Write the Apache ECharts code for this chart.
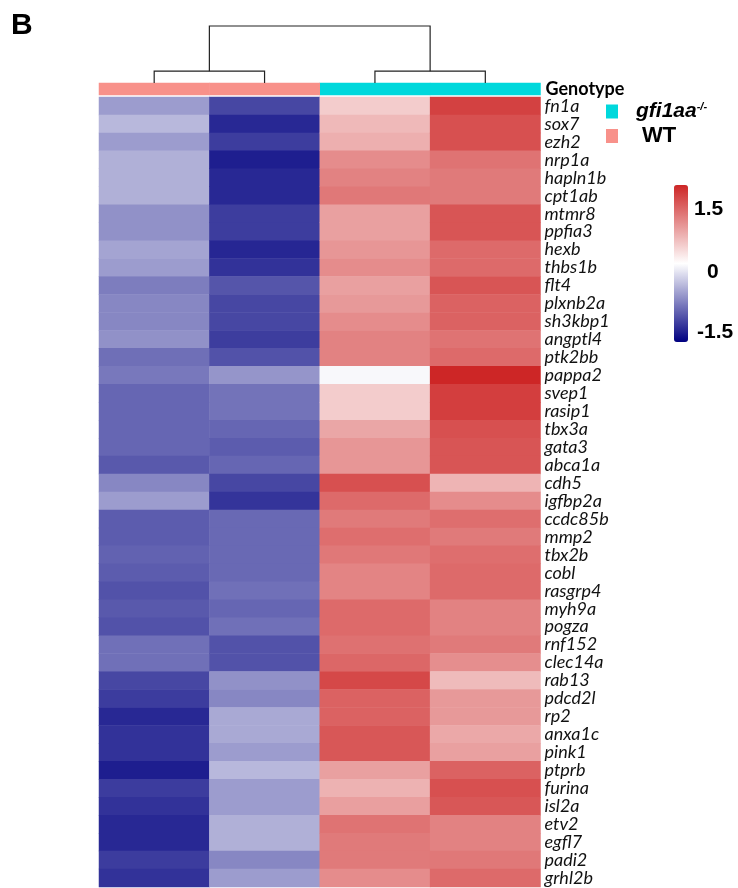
<!DOCTYPE html>
<html><head><meta charset="utf-8">
<script src="https://cdn.jsdelivr.net/npm/echarts/dist/echarts.min.js"></script>
<style>html,body{margin:0;padding:0;background:#fff}#c{width:738px;height:888px}</style>
</head><body><div id="c"></div>
<script>
const genes = ['fn1a','sox7','ezh2','nrp1a','hapln1b','cpt1ab','mtmr8','ppfia3','hexb','thbs1b',
  'flt4','plxnb2a','sh3kbp1','angptl4','ptk2bb','pappa2','svep1','rasip1','tbx3a','gata3',
  'abca1a','cdh5','igfbp2a','ccdc85b','mmp2','tbx2b','cobl','rasgrp4','myh9a','pogza',
  'rnf152','clec14a','rab13','pdcd2l','rp2','anxa1c','pink1','ptprb','furina','isl2a',
  'etv2','egfl7','padi2','grhl2b'];
const samples = ['WT_1','WT_2','gfi1aa_1','gfi1aa_2'];
const sampleGenotype = ['WT','WT','gfi1aa','gfi1aa'];
const wt1 = [-0.70,-0.50,-0.70,-0.56,-0.56,-0.56,-0.78,-0.78,-0.64,-0.70,
  -0.92,-0.85,-0.85,-0.78,-1.02,-0.95,-1.08,-1.08,-1.08,-1.08,
  -1.17,-0.85,-0.70,-1.15,-1.15,-1.11,-1.15,-1.22,-1.17,-1.22,
  -1.01,-1.01,-1.30,-1.38,-1.52,-1.45,-1.45,-1.59,-1.38,-1.45,
  -1.52,-1.52,-1.38,-1.45];
const wt2 = [-1.30,-1.52,-1.37,-1.59,-1.52,-1.52,-1.37,-1.37,-1.53,-1.45,
  -1.20,-1.30,-1.30,-1.37,-1.22,-0.75,-0.99,-0.99,-1.08,-1.15,
  -1.08,-1.30,-1.43,-1.06,-1.06,-1.06,-1.06,-1.01,-1.08,-1.01,
  -1.22,-1.22,-0.78,-0.85,-0.61,-0.61,-0.70,-0.50,-0.70,-0.70,
  -0.56,-0.56,-0.85,-0.70];
const ko1 = [0.42,0.58,0.66,0.95,1.04,1.12,0.79,0.79,0.87,0.95,
  0.79,0.85,0.95,1.04,1.04,-0.05,0.42,0.42,0.74,0.87,
  0.87,1.45,1.24,1.10,1.20,1.12,1.02,1.02,1.24,1.24,
  1.18,1.26,1.52,1.30,1.30,1.39,1.39,0.79,0.64,0.80,
  1.16,1.10,1.10,0.95];
const ko2 = [1.58,1.45,1.45,1.16,1.10,1.10,1.41,1.41,1.24,1.24,
  1.41,1.30,1.30,1.16,1.24,1.80,1.60,1.60,1.45,1.41,
  1.41,0.62,0.95,1.20,1.10,1.20,1.24,1.24,1.04,1.04,
  1.10,0.94,0.56,0.85,0.85,0.72,0.79,1.30,1.45,1.39,
  1.04,1.04,1.12,1.24];
const dendroMerge = [[-1,-2],[-3,-4],[1,2]];
const dendroHeight = [2.5,2.5,12];
const colorbarTicks = ['1.5','0','-1.5'];

const columns = [wt1, wt2, ko1, ko2];
const heatData = [];
columns.forEach((col, ci) => col.forEach((v, ri) => heatData.push([ci, ri, v])));

const nodes = [];
const segs = [];
function nodePos(id) {
  if (id < 0) return { x: -id - 0.5, y: 0 };
  return nodes[id - 1];
}
dendroMerge.forEach((m, k) => {
  const a = nodePos(m[0]), b = nodePos(m[1]), h = dendroHeight[k];
  segs.push([a.x, a.y, b.x, b.y, h]);
  nodes.push({ x: (a.x + b.x) / 2, y: h });
});

const GL = 99, GW = 441.5;
const genoColors = { gfi1aa: '#00D8DC', WT: '#F8918A' };

const chart = echarts.init(document.getElementById('c'));
chart.setOption({
  animation: false,
  backgroundColor: '#fff',
  title: { text: 'B', left: 11, top: 11, padding: 0,
    textStyle: { fontFamily: 'Liberation Sans', fontWeight: 'bold', fontSize: 30, color: '#000' } },
  grid: [
    { left: GL, width: GW, top: 97, height: 790 },
    { left: GL, width: GW, top: 83, height: 12 },
    { left: GL, width: GW, top: 26, height: 57 }
  ],
  xAxis: [
    { type: 'category', gridIndex: 0, data: samples, show: false },
    { type: 'category', gridIndex: 1, data: samples, show: false },
    { type: 'value', gridIndex: 2, min: 0, max: samples.length, show: false }
  ],
  yAxis: [
    { type: 'category', gridIndex: 0, data: genes, inverse: true, position: 'right',
      axisLine: { show: false }, axisTick: { show: false },
      axisLabel: { interval: 0, margin: 4, fontFamily: 'Lato', fontStyle: 'italic', fontSize: 18, color: '#111' } },
    { type: 'category', gridIndex: 1, data: ['Genotype'], position: 'right',
      axisLine: { show: false }, axisTick: { show: false },
      axisLabel: { interval: 0, margin: 5, fontFamily: 'Lato', fontWeight: 'bold', fontSize: 18, color: '#000' } },
    { type: 'value', gridIndex: 2, min: 0, max: 12, show: false }
  ],
  visualMap: {
    type: 'continuous', seriesIndex: [0], min: -1.8, max: 1.8, calculable: false,
    orient: 'vertical', left: 674, top: 185, itemWidth: 14, itemHeight: 157, padding: 0,
    text: null, showLabel: false,
    inRange: { color: ['#000080', '#ffffff', '#cd2626'] }
  },
  legend: {
    orient: 'vertical', left: 606, top: 101, padding: 0, itemWidth: 12, itemHeight: 14, itemGap: 3,
    selectedMode: false,
    data: [{ name: 'gfi1aa', icon: 'rect' }, { name: 'WT', icon: 'rect' }],
    formatter: n => n === 'gfi1aa' ? '{i|gfi1aa}{s|-/-}' : '{b|WT}',
    textStyle: {
      rich: {
        i: { fontFamily: 'Liberation Sans', fontStyle: 'italic', fontWeight: 'bold', fontSize: 21, color: '#000', padding: [0, 0, 0, 13] },
        s: { fontFamily: 'Liberation Sans', fontStyle: 'italic', fontWeight: 'bold', fontSize: 11, color: '#000', verticalAlign: 'top', padding: [0, 0, 8, 0] },
        b: { fontFamily: 'Liberation Sans', fontWeight: 'bold', fontSize: 22, color: '#000', padding: [0, 0, 0, 19] }
      }
    }
  },
  graphic: colorbarTicks.map((t, i) => ({
    type: 'text', left: [694, 707, 697][i], top: [199, 262, 322][i],
    style: { text: t, font: 'bold 21px "Liberation Sans"', fill: '#000' }
  })),
  series: [
    { type: 'heatmap', xAxisIndex: 0, yAxisIndex: 0, data: heatData, itemStyle: { borderWidth: 0 } },
    { type: 'heatmap', name: 'gfi1aa', xAxisIndex: 1, yAxisIndex: 1,
      data: sampleGenotype.map((g, i) => g === 'gfi1aa' ? [i, 0, 1] : null).filter(d => d),
      itemStyle: { color: genoColors.gfi1aa } },
    { type: 'heatmap', name: 'WT', xAxisIndex: 1, yAxisIndex: 1,
      data: sampleGenotype.map((g, i) => g === 'WT' ? [i, 0, 1] : null).filter(d => d),
      itemStyle: { color: genoColors.WT } },
    { type: 'custom', xAxisIndex: 2, yAxisIndex: 2, data: segs, silent: true,
      renderItem: (params, api) => {
        const xa = api.value(0), ya = api.value(1), xb = api.value(2), yb = api.value(3), h = api.value(4);
        return { type: 'polyline',
          shape: { points: [api.coord([xa, ya]), api.coord([xa, h]), api.coord([xb, h]), api.coord([xb, yb])] },
          style: { stroke: '#222', lineWidth: 1.2, fill: null } };
      } }
  ]
});
</script></body></html>
